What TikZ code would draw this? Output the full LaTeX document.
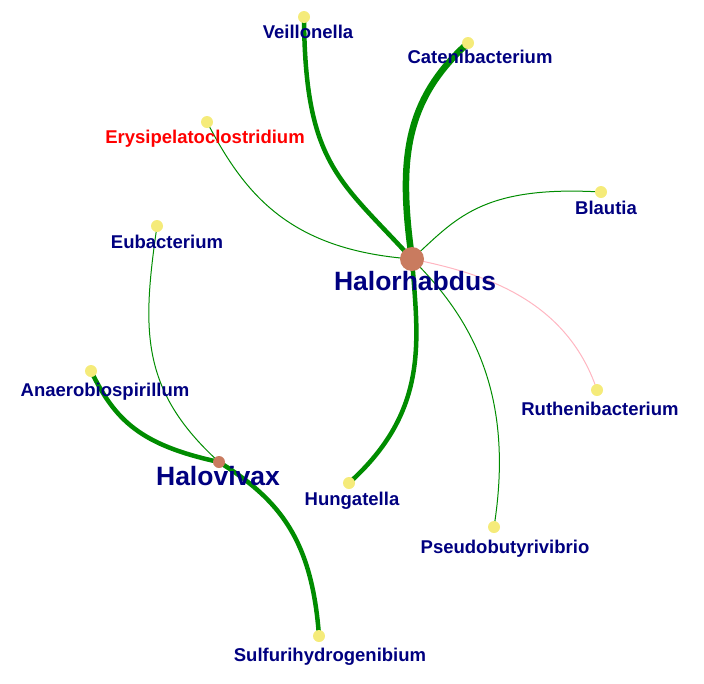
\documentclass[tikz,border=0pt]{standalone}
\usepackage{fontspec}
\setmainfont{Liberation Sans}
\definecolor{edgegreen}{RGB}{0,140,0}
\definecolor{edgepink}{RGB}{255,182,193}
\definecolor{hubcol}{RGB}{201,123,95}
\definecolor{leafcol}{RGB}{245,235,122}
\definecolor{navy}{RGB}{0,0,128}
\definecolor{redlab}{RGB}{255,0,0}
\begin{document}
\begin{tikzpicture}[x=1pt,y=-1pt,
  hub/.style={circle,fill=hubcol,inner sep=0pt,minimum size=24pt},
  subhub/.style={circle,fill=hubcol,inner sep=0pt,minimum size=12pt},
  leaf/.style={circle,fill=leafcol,inner sep=0pt,minimum size=12pt},
  lab/.style={anchor=base,inner sep=0pt,text=navy,font=\fontsize{18.5}{20}\selectfont\bfseries},
  biglab/.style={anchor=base,inner sep=0pt,text=navy,font=\fontsize{26.5}{28}\selectfont\bfseries},
  thin/.style={draw=edgegreen,line width=1pt},
  thick/.style={draw=edgegreen,line width=4.5pt},
  thicker/.style={draw=edgegreen,line width=6.5pt},
  pinkedge/.style={draw=edgepink,line width=1pt}]
\useasboundingbox (0,0) rectangle (704,683);
% node positions
\coordinate (H) at (412,259);
\coordinate (V) at (219,462);
\coordinate (cVe) at (304,17);
\coordinate (cCa) at (468,43);
\coordinate (cEr) at (207,122);
\coordinate (cBl) at (601,192);
\coordinate (cEu) at (157,226);
\coordinate (cAn) at (91,371);
\coordinate (cRu) at (597,390);
\coordinate (cHu) at (349,483);
\coordinate (cPs) at (494,527);
\coordinate (cSu) at (319,636);
% edges
\draw[thick] (cVe) .. controls (305,165) and (340,180) .. (H);
\draw[thicker] (H) .. controls (398,160) and (405,100) .. (cCa);
\draw[thin] (cEr) .. controls (245,195) and (290,250) .. (H);
\draw[thin] (H) .. controls (455,220) and (480,185) .. (cBl);
\draw[pinkedge] (H) .. controls (475,272) and (565,295) .. (cRu);
\draw[thin] (H) .. controls (472,318) and (515,395) .. (cPs);
\draw[thick] (H) .. controls (418,340) and (430,410) .. (cHu);
\draw[thin] (cEu) .. controls (142,330) and (140,390) .. (V);
\draw[thick] (cAn) .. controls (115,420) and (140,445) .. (V);
\draw[thick] (V) .. controls (280,500) and (312,540) .. (cSu);
% nodes
\node[hub] (Hn) at (H) {};
\node[subhub] (Vn) at (V) {};
\node[leaf] (Ve) at (cVe) {};
\node[leaf] (Ca) at (cCa) {};
\node[leaf] (Er) at (cEr) {};
\node[leaf] (Bl) at (cBl) {};
\node[leaf] (Eu) at (cEu) {};
\node[leaf] (An) at (cAn) {};
\node[leaf] (Ru) at (cRu) {};
\node[leaf] (Hu) at (cHu) {};
\node[leaf] (Ps) at (cPs) {};
\node[leaf] (Su) at (cSu) {};
% labels
\node[biglab] (lH) at (415,290) {Halorhabdus};
\node[biglab] (lV) at (218,485) {Halovivax};
\node[lab] (lVe) at (308,38) {Veillonella};
\node[lab] (lCa) at (480,63) {Catenibacterium};
\node[lab,text=redlab] (lEr) at (205,143) {Erysipelatoclostridium};
\node[lab] (lBl) at (606,214) {Blautia};
\node[lab] (lEu) at (167,248) {Eubacterium};
\node[lab] (lAn) at (105,396) {Anaerobiospirillum};
\node[lab] (lRu) at (600,415) {Ruthenibacterium};
\node[lab] (lHu) at (352,505) {Hungatella};
\node[lab] (lPs) at (505,553) {Pseudobutyrivibrio};
\node[lab] (lSu) at (330,661) {Sulfurihydrogenibium};
\end{tikzpicture}
\end{document}
